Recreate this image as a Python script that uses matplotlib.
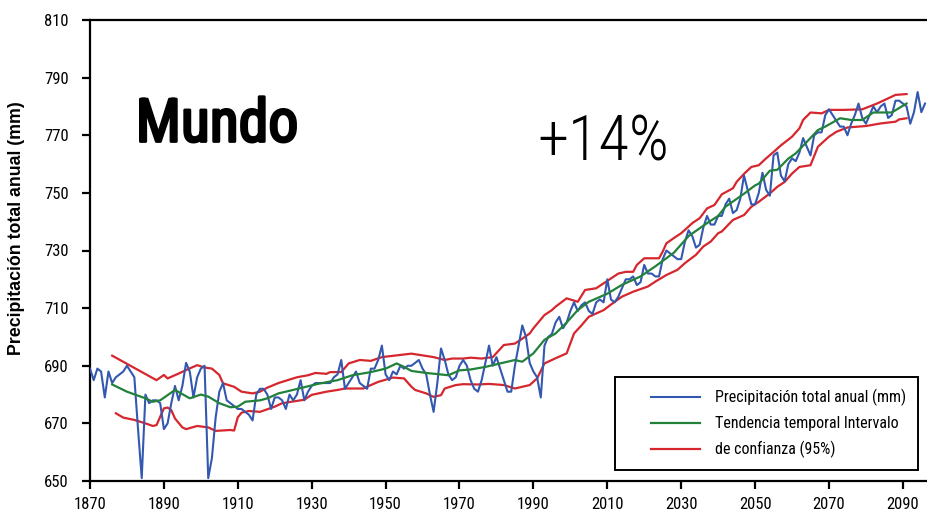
import matplotlib
matplotlib.use("Agg")
import matplotlib.pyplot as plt
from matplotlib import font_manager
from matplotlib.lines import Line2D
from matplotlib.legend_handler import HandlerLine2D
import matplotlib.patheffects as pe
import numpy as np


def pick_font(names):
    for n in names:
        try:
            font_manager.findfont(n, fallback_to_default=False)
            return n
        except Exception:
            continue
    return "DejaVu Sans"


NARROW = pick_font(["Liberation Sans Narrow", "Arial Narrow", "Roboto Condensed", "DejaVu Sans"])
WIDE = pick_font(["Liberation Sans", "Arial", "DejaVu Sans"])

# Annual precipitation (mm), 1870-2096
years = np.arange(1870, 2097)
precip = [
    689, 685, 689, 688, 679, 688, 684, 686, 687, 688,   # 1870s
    690, 688, 686, 668, 651, 680, 677, 678, 678, 677,   # 1880s
    668, 670, 677, 683, 678, 683, 691, 688, 679, 686,   # 1890s
    689, 690, 651, 658, 672, 681, 684, 678, 677, 676,   # 1900s
    675, 675, 674, 673, 671, 680, 682, 682, 680, 675,   # 1910s
    679, 679, 678, 675, 680, 678, 680, 685, 678, 681,   # 1920s
    683, 684, 684, 684, 684, 684, 686, 687, 692, 682,   # 1930s
    684, 686, 688, 684, 683, 682, 689, 689, 692, 697,   # 1940s
    687, 685, 688, 687, 690, 689, 690, 690, 691, 692,   # 1950s
    689, 687, 680, 674, 684, 696, 692, 687, 685, 686,   # 1960s
    690, 692, 690, 685, 682, 681, 685, 691, 697, 690,   # 1970s
    693, 689, 685, 681, 681, 690, 697, 704, 700, 691,   # 1980s
    688, 686, 679, 697, 700, 701, 705, 707, 703, 705,   # 1990s
    709, 712, 709, 711, 712, 709, 708, 712, 713, 712,   # 2000s
    720, 713, 712, 714, 717, 720, 720, 721, 718, 719,   # 2010s
    725, 722, 722, 721, 721, 727, 730, 729, 728, 727,   # 2020s
    727, 733, 737, 735, 731, 732, 738, 742, 739, 739,   # 2030s
    742, 742, 746, 748, 743, 744, 748, 756, 751, 746,   # 2040s
    746, 750, 757, 751, 749, 763, 764, 756, 754, 760,   # 2050s
    762, 761, 764, 769, 766, 763, 770, 771, 771, 777,   # 2060s
    779, 777, 775, 773, 773, 770, 774, 777, 781, 776,   # 2070s
    774, 777, 780, 778, 780, 781, 776, 777, 782, 782,   # 2080s
    781, 780, 774, 778, 785, 778, 781,                  # 2090s
]

# Temporal trend (year, mm)
trend = [
    (1876, 683.5), (1880, 681.0), (1885, 678.7), (1887, 677.5), (1889, 678.0),
    (1893, 681.6), (1897, 678.7), (1900, 680.0), (1902, 679.3), (1905, 677.0),
    (1908, 675.6), (1910, 675.8), (1912, 677.5), (1916, 678.0), (1918, 678.7),
    (1921, 680.4), (1923, 681.0), (1932, 683.8), (1937, 685.0), (1941, 686.7),
    (1946, 687.8), (1950, 689.0), (1953, 690.8), (1955, 689.6), (1957, 688.2),
    (1961, 687.5), (1967, 686.7), (1970, 688.4), (1973, 688.7), (1977, 689.6),
    (1981, 690.8), (1985, 692.0), (1987, 691.4), (1990, 694.3), (1993, 699.0),
    (1996, 701.2), (1999, 705.0), (2002, 709.3), (2005, 712.2), (2010, 715.0),
    (2014, 718.1), (2019, 721.0), (2023, 724.5), (2028, 729.2), (2032, 735.0),
    (2037, 739.5), (2040, 742.0), (2042, 745.2), (2047, 749.7), (2050, 752.6),
    (2051, 753.2), (2054, 757.7), (2056, 758.0), (2059, 761.9), (2061, 763.7),
    (2064, 767.7), (2067, 771.8), (2069, 773.0), (2073, 775.9), (2076, 775.3),
    (2079, 775.3), (2082, 777.9), (2087, 777.9), (2091, 781.0),
]

# 95% confidence interval, upper bound (year, mm)
ci_upper = [
    (1876, 693.5), (1888, 685.0), (1890, 686.8), (1891, 685.6), (1894, 687.3),
    (1896, 688.5), (1899, 690.2), (1901, 689.4), (1903, 689.0), (1905, 686.8),
    (1906, 683.9), (1909, 682.7), (1911, 681.0), (1914, 680.4), (1916, 681.0),
    (1918, 682.4), (1921, 684.0), (1926, 686.0), (1929, 686.7), (1931, 687.5),
    (1934, 687.2), (1935, 687.8), (1938, 687.8), (1940, 690.8), (1943, 692.0),
    (1946, 691.7), (1949, 693.0), (1953, 693.6), (1957, 694.2), (1960, 693.6),
    (1963, 693.0), (1966, 692.0), (1968, 692.5), (1971, 692.5), (1973, 692.8),
    (1976, 692.5), (1979, 693.0), (1982, 697.2), (1985, 697.7), (1987, 699.4),
    (1989, 701.2), (1990, 703.0), (1993, 707.6), (1995, 709.3), (1996, 710.5),
    (1999, 713.4), (2002, 712.2), (2004, 716.3), (2007, 716.9), (2009, 718.6),
    (2013, 722.0), (2015, 722.6), (2017, 722.6), (2018, 725.0), (2020, 727.3),
    (2024, 727.3), (2025, 729.6), (2026, 732.5), (2028, 734.3), (2030, 736.0),
    (2032, 738.3), (2033, 739.5), (2035, 741.2), (2037, 744.6), (2039, 745.8),
    (2041, 749.5), (2044, 751.6), (2045, 753.8), (2047, 756.6), (2049, 759.0),
    (2051, 759.6), (2053, 762.0), (2055, 764.2), (2057, 766.5), (2060, 769.5),
    (2062, 772.4), (2063, 775.3), (2065, 777.9), (2068, 777.6), (2070, 778.8),
    (2074, 778.8), (2079, 779.0), (2083, 781.0), (2086, 782.8), (2088, 784.0),
    (2091, 784.3),
]

# 95% confidence interval, lower bound (year, mm)
ci_lower = [
    (1877, 673.5), (1879, 672.0), (1882, 671.2), (1885, 670.0), (1887, 669.1),
    (1888, 669.4), (1889, 672.3), (1890, 675.2), (1891, 675.5), (1892, 674.6),
    (1893, 671.7), (1895, 668.6), (1896, 668.0), (1899, 669.1), (1902, 668.6),
    (1904, 667.4), (1908, 667.7), (1909, 667.5), (1910, 672.1), (1911, 673.7),
    (1913, 674.3), (1916, 674.0), (1920, 675.8), (1922, 677.0), (1925, 677.6),
    (1928, 678.2), (1930, 679.9), (1934, 681.0), (1937, 681.6), (1939, 682.1),
    (1944, 682.1), (1946, 683.3), (1948, 684.4), (1952, 685.9), (1955, 685.6),
    (1957, 682.7), (1958, 681.6), (1961, 680.4), (1963, 679.2), (1965, 679.8),
    (1966, 682.1), (1969, 683.3), (1971, 683.6), (1975, 683.5), (1978, 683.7),
    (1982, 683.3), (1985, 682.1), (1989, 683.3), (1991, 685.6), (1993, 690.8),
    (1996, 692.6), (1999, 694.3), (2001, 701.2), (2003, 704.0), (2005, 707.0),
    (2009, 709.3), (2012, 712.2), (2014, 714.0), (2017, 715.7), (2021, 717.5),
    (2023, 719.2), (2026, 721.5), (2029, 723.3), (2031, 725.6), (2034, 728.5),
    (2036, 731.4), (2038, 733.1), (2040, 736.0), (2041, 736.6), (2044, 740.6),
    (2047, 742.3), (2049, 745.2), (2051, 746.9), (2054, 749.8), (2056, 752.1),
    (2058, 753.8), (2060, 756.7), (2062, 759.0), (2065, 759.6), (2067, 766.0),
    (2070, 769.5), (2072, 771.2), (2075, 772.7), (2078, 773.0), (2080, 773.2),
    (2084, 774.1), (2088, 774.7), (2089, 775.5), (2091, 775.9),
]

y_ticks = [650, 670, 690, 710, 730, 750, 770, 790, 810]
x_ticks = [1870, 1890, 1910, 1930, 1950, 1970, 1990, 2010, 2030, 2050, 2070, 2090]
legend_labels = ["Precipitación total anual (mm)",
                 "Tendencia temporal Intervalo",
                 "de confianza (95%)"]

BLUE = "#3358b0"
GREEN = "#22813a"
RED = "#d6262e"

W, H = 928, 512
fig = plt.figure(figsize=(W / 100, H / 100), dpi=100)
ax = fig.add_axes([90 / W, 1 - 481 / H, (W - 90) / W, (481 - 20) / H])

ax.plot(years, precip, color=BLUE, lw=1.5, label=legend_labels[0], zorder=3)
tx, tv = zip(*trend)
ax.plot(tx, tv, color=GREEN, lw=1.6, label=legend_labels[1], zorder=4)
ux, uv = zip(*ci_upper)
ax.plot(ux, uv, color=RED, lw=1.6, label=legend_labels[2], zorder=2)
lx, lv = zip(*ci_lower)
ax.plot(lx, lv, color=RED, lw=1.6, zorder=2)

ax.set_xlim(1870, 2096.8)
ax.set_ylim(650, 810)
ax.set_xticks(x_ticks)
ax.set_yticks(y_ticks)

for side in ("left", "bottom", "top"):
    ax.spines[side].set_linewidth(1.6)
    ax.spines[side].set_color("black")
ax.spines["right"].set_visible(False)

ax.tick_params(axis="both", direction="out", length=5.5, width=1.6, color="black")
ax.tick_params(axis="y", pad=10)
ax.tick_params(axis="x", pad=6)
for lab in ax.get_xticklabels() + ax.get_yticklabels():
    lab.set_fontfamily(NARROW)
    lab.set_fontsize(12)

ax.set_ylabel("Precipitación total anual (mm)", fontfamily=WIDE,
              fontweight="bold", fontsize=12.8)
ax.yaxis.set_label_coords(-0.088, (481 - 228) / 461)
ax.yaxis.label.set_va("center")

ax.text((217 - 90) / 838, (481 - 125) / 461, "Mundo", transform=ax.transAxes,
        ha="center", va="center", fontfamily=NARROW, fontweight="normal",
        fontsize=43, color="black",
        path_effects=[pe.withStroke(linewidth=2.0, foreground="black")])
ax.text((603 - 90) / 838, (481 - 143) / 461, "+14%", transform=ax.transAxes,
        ha="center", va="center", fontfamily=NARROW, fontweight="light",
        fontsize=45, color="black")

fs = 11.5
leg = ax.legend(loc="upper left",
                bbox_to_anchor=((615 - 90) / 838, (481 - 377) / 461),
                frameon=True, fancybox=False, edgecolor="black",
                prop={"family": NARROW, "size": fs},
                handlelength=4.6, handletextpad=0.9, borderpad=0.75,
                labelspacing=0.62, borderaxespad=0.0,
                handler_map={Line2D: HandlerLine2D(xpad=1.5)})
leg.get_frame().set_linewidth(1.4)
leg.get_frame().set_facecolor("white")
leg.get_frame().set_alpha(1)

fig.savefig("out.png", dpi=100)
